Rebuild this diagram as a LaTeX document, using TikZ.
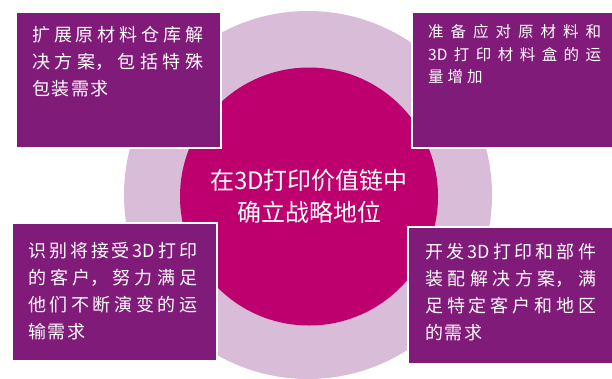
\documentclass[tikz,border=0pt]{standalone}
\usepackage{fontspec}
\usepackage{tikz}
\usepackage{xcolor}
\setmainfont{Noto Sans CJK SC}
\XeTeXlinebreaklocale "zh"

\definecolor{panelpurple}{RGB}{128,27,121}
\definecolor{coremagenta}{RGB}{189,0,110}
\definecolor{ringlilac}{RGB}{217,188,216}

\newcommand{\corefont}{\fontsize{24}{32}\selectfont\XeTeXlinebreakskip 0.5pt\relax}
\newcommand{\panelfont}{\fontsize{18}{27}\selectfont\XeTeXlinebreakskip 1.5pt plus 8pt\relax}
\newcommand{\smallpanelfont}{\fontsize{15.5}{22.7}\selectfont\XeTeXlinebreakskip 4pt plus 8pt\relax}

\begin{document}
\begin{tikzpicture}[x=1pt,y=-1pt,
  panel/.style = {rectangle, anchor=north west, inner sep=0pt, fill=panelpurple, draw=white, line width=2pt},
  paneltext/.style = {anchor=base west, inner sep=0pt, text=white, align=justify, text width=171pt, font=\panelfont}]
  \useasboundingbox[fill=white] (0,0) rectangle (612,378);

  % rings behind
  \node[circle, fill=ringlilac, minimum size=368pt, inner sep=0pt] (ring) at (308,195) {};
  \node[circle, fill=coremagenta, minimum size=258pt, inner sep=0pt] (core) at (309,196.5) {};
  \node[text=white, align=center, font=\corefont] (goal) at (core.center) {在3D打印价值链中\\确立战略地位};

  % four panels
  \node[panel, minimum width=205pt, minimum height=136pt] (tl) at (15,11) {};
  \node[panel, minimum width=208pt, minimum height=136pt] (tr) at (411,11) {};
  \node[panel, minimum width=205pt, minimum height=138pt] (bl) at (11,222) {};
  \node[panel, minimum width=212pt, minimum height=137pt] (br) at (407,226) {};

  \node[paneltext] (tltext) at (32,41.5) {扩展原材料仓库解\linebreak 决方案，包括特殊\linebreak 包装需求};
  \node[paneltext, text width=173pt, font=\smallpanelfont] (trtext) at (428,37.5) {准备应对原材料和\linebreak 3D打印材料盒的运\linebreak 量增加};
  \node[paneltext, text width=169pt] (bltext) at (28,257.5) {识别将接受3D打印\linebreak 的客户，努力满足\linebreak 他们不断演变的运\linebreak 输需求};
  \node[paneltext] (brtext) at (425,258) {开发3D打印和部件\linebreak 装配解决方案，满\linebreak 足特定客户和地区\linebreak 的需求};
\end{tikzpicture}
\end{document}
